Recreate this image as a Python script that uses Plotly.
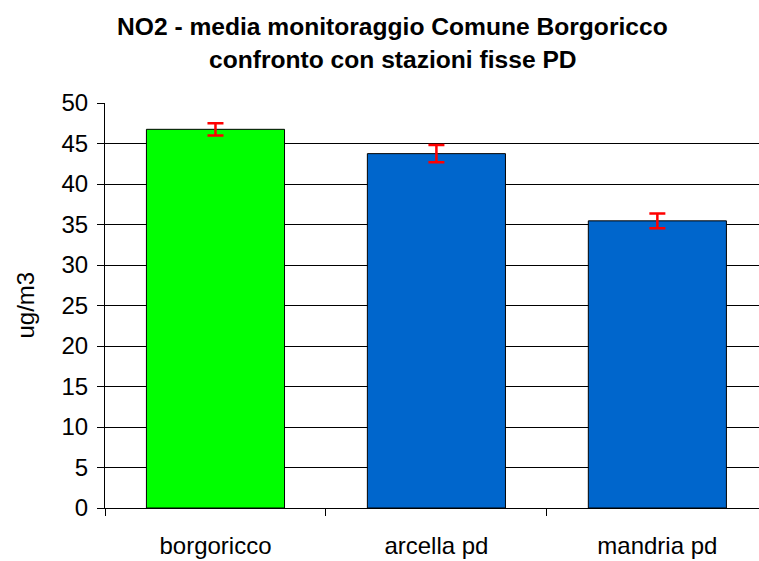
import plotly.graph_objects as go

categories = ["borgoricco", "arcella pd", "mandria pd"]
values = [46.75, 43.75, 35.45]
errors = [0.75, 1.05, 0.9]
colors = ["#00FF00", "#0066CC", "#0066CC"]
title_lines = ["NO2 - media monitoraggio Comune Borgoricco", "confronto con stazioni fisse PD"]
y_title = "ug/m3"

fig = go.Figure()
fig.add_trace(go.Bar(
    x=categories, y=values,
    marker=dict(color=colors, line=dict(color="black", width=1)),
    error_y=dict(type="data", array=errors, visible=True, color="#FF0000", thickness=2.5, width=8),
    width=0.625,
))

font = "Liberation Sans, Arial, sans-serif"
anns = [
    dict(text=f"<b>{title_lines[0]}</b>", xref="paper", yref="paper", x=0.440, y=1.188,
         xanchor="center", yanchor="middle", showarrow=False,
         font=dict(family=font, size=24.6, color="black")),
    dict(text=f"<b>{title_lines[1]}</b>", xref="paper", yref="paper", x=0.440, y=1.108,
         xanchor="center", yanchor="middle", showarrow=False,
         font=dict(family=font, size=24.6, color="black")),
    dict(text=y_title, xref="paper", yref="paper", x=-0.121, y=0.502,
         xanchor="center", yanchor="middle", textangle=-90, showarrow=False,
         font=dict(family=font, size=24, color="black")),
]
fig.update_layout(
    width=759, height=561,
    margin=dict(l=105, r=0, t=103, b=53, autoexpand=False),
    paper_bgcolor="white", plot_bgcolor="white",
    showlegend=False,
    font=dict(family=font, size=24, color="black"),
    annotations=anns,
)
fig.update_xaxes(
    range=[-0.5, 2.46], showline=True, linecolor="black", linewidth=1,
    ticks="outside", tickson="boundaries", ticklen=7, tickcolor="black",
    showgrid=False, tickfont=dict(size=24), ticklabelstandoff=16, automargin=False,
)
fig.update_yaxes(
    range=[0, 50], dtick=5, showline=True, linecolor="black", linewidth=1,
    ticks="outside", ticklen=7, tickcolor="black",
    showgrid=True, gridcolor="black", gridwidth=1, zeroline=False,
    tickfont=dict(size=24), automargin=False, ticklabelstandoff=4,
)
fig.write_html(
    "out.html",
    config={"displayModeBar": False},
    post_script="document.body.style.margin='0';document.body.style.overflow='hidden';",
)
